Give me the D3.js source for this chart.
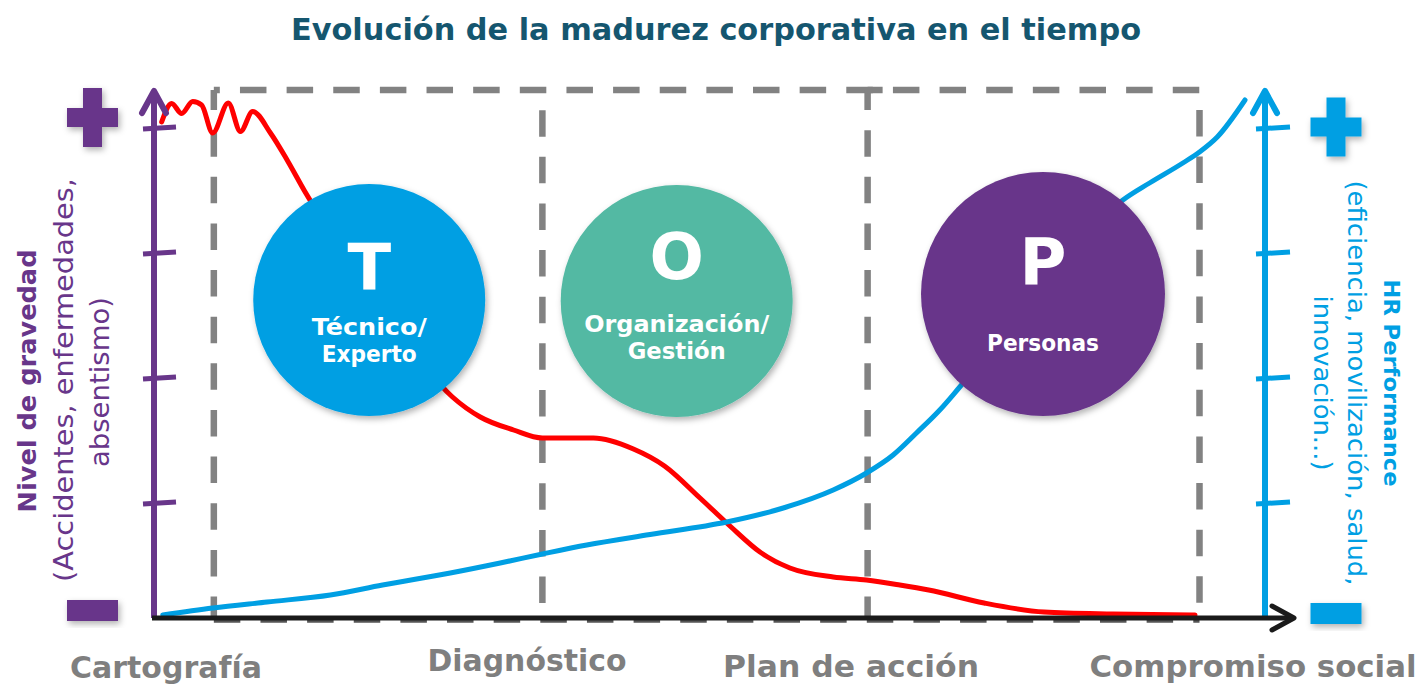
<!DOCTYPE html>
<html>
<head>
<meta charset="utf-8">
<script src="https://cdn.jsdelivr.net/npm/d3@7"></script>
<style>
  body { margin: 0; background: #fff; }
  svg { display: block; }
</style>
</head>
<body>
<script>
// chart values
var title = "Evolución de la madurez corporativa en el tiempo";
var stages = ["Cartografía", "Diagnóstico", "Plan de acción", "Compromiso social"];
var stageBounds = [5.3, 34.9, 64.2, 94.1];
var levelTicks = [25, 50, 75, 100];

var pillarLetters = ["T", "O", "P"];
var pillarNames = [["Técnico/", "Experto"], ["Organización/", "Gestión"], ["Personas"]];
var pillarColors = ["#009fe3", "#52b9a3", "#68368a"];

// red: Nivel de gravedad
var gravedadT = [0.6, 1.5, 2.4, 3.4, 4.2, 5.2, 6.6, 7.7, 8.8, 10.4, 11.9, 13.5, 20.3, 26.8, 29.3, 32.3, 34.9, 39.5, 43.1, 45.9, 49.1, 51.8, 54.5, 57.2, 61.1, 64.1, 67.1, 69.7, 74.7, 80.1, 86.3, 93.7];
var gravedadV = [101.2, 104.9, 102.9, 105.3, 104.6, 99.0, 105.0, 99.3, 103.3, 99.0, 93.6, 87.3, 65.6, 46.2, 42.2, 39.6, 38.0, 38.0, 35.8, 32.4, 26.0, 20.4, 15.2, 12.0, 10.2, 9.6, 8.6, 7.6, 5.0, 3.2, 2.8, 2.6];

// blue: HR Performance
var performanceT = [0.7, 5.2, 10.1, 15.8, 20.5, 26.6, 31.1, 34.9, 38.9, 44.6, 51.5, 56.6, 61.1, 64.1, 66.5, 68.6, 70.7, 72.5, 79.7, 87.2, 89.6, 92.6, 94.1, 95.7, 98.2];
var performanceV = [2.6, 4.0, 5.2, 6.6, 8.6, 11.0, 13.0, 14.8, 16.6, 18.7, 21.2, 24.0, 27.6, 31.0, 34.6, 39.0, 43.6, 48.2, 67.6, 85.6, 89.0, 93.0, 95.2, 98.2, 105.6];

// layout
var W = 1419, H = 685;
var FONT = "'DejaVu Sans', sans-serif";
var purple = "#68368a", blue = "#009fe3", gray = "#7f7f7f";
var pillarAt = [19.3, 47.0, 80.0];
var pillarLevel = [65.6, 65.4, 66.8];
var pillarR = [116, 116, 122];
var pillarNameW = [[115, 95], [185, 98], [112]];
var stageLabelX = [166, 527, 851, 1253];
var stageLabelY = [678, 671, 677, 677];
var stageLabelW = [192, 199, 256, 327];

var svg = d3.select("body").append("svg").attr("width", W).attr("height", H);

var defs = svg.append("defs");
defs.append("filter").attr("id", "shadow")
    .attr("x", "-20%").attr("y", "-20%").attr("width", "150%").attr("height", "150%")
  .append("feDropShadow")
    .attr("dx", 2).attr("dy", 3).attr("stdDeviation", 3)
    .attr("flood-color", "#000").attr("flood-opacity", 0.3);

var x = d3.scaleLinear().domain([0, 100]).range([155, 1265]);
var y = d3.scaleLinear().domain([0, 100]).range([628, 128]);
var base = y(2);

// title
svg.append("text")
    .attr("x", 716).attr("y", 40)
    .attr("text-anchor", "middle")
    .attr("font-family", FONT).attr("font-weight", "bold").attr("font-size", 31)
    .attr("textLength", 850).attr("lengthAdjust", "spacingAndGlyphs")
    .attr("fill", "#15566f")
    .text(title);

// dashed stage boxes
var dash = "26.5 20.14";
var boxes = svg.append("g").attr("fill", "none").attr("stroke", "#828282")
    .attr("stroke-width", 6.5).attr("stroke-dasharray", dash);

boxes.append("path")
    .attr("d", "M" + x(stageBounds[0]) + "," + 90 + "H" + x(stageBounds[3]) + "V" + base)
    .attr("stroke-dashoffset", 20.5);
boxes.append("path")
    .attr("d", "M" + x(stageBounds[0]) + "," + (base + 1.5) + "H" + x(stageBounds[3]))
    .attr("stroke", "#555")
    .attr("stroke-dashoffset", 0);

stageBounds.slice(0, 3).forEach(function(b, i) {
    boxes.append("path")
        .attr("d", "M" + x(b) + "," + 90 + "V" + base)
        .attr("stroke-dashoffset", i == 1 ? 26.5 : 6.5);
});
boxes.append("path")
    .attr("d", "M" + x(stageBounds[2]) + ",90H" + (x(stageBounds[2]) + 15))
    .attr("stroke-dasharray", null);

// curves
var line = d3.line()
    .x(function(d) { return x(d[0]); })
    .y(function(d) { return y(d[1]); })
    .curve(d3.curveMonotoneX);

svg.append("path")
    .datum(d3.zip(gravedadT, gravedadV))
    .attr("d", line)
    .attr("fill", "none").attr("stroke", "#ff0000").attr("stroke-width", 5)
    .attr("stroke-linecap", "round").attr("stroke-linejoin", "round");

svg.append("path")
    .datum(d3.zip(performanceT, performanceV))
    .attr("d", line)
    .attr("fill", "none").attr("stroke", blue).attr("stroke-width", 5)
    .attr("stroke-linecap", "round").attr("stroke-linejoin", "round");

// pillar circles
var pillars = svg.selectAll(".pillar").data(pillarLetters)
    .enter().append("g")
    .attr("class", "pillar")
    .attr("transform", function(d, i) { return "translate(" + x(pillarAt[i]) + "," + y(pillarLevel[i]) + ")"; });

pillars.append("circle")
    .attr("r", function(d, i) { return pillarR[i]; })
    .attr("fill", function(d, i) { return pillarColors[i]; })
    .attr("filter", "url(#shadow)");

pillars.append("text")
    .attr("text-anchor", "middle")
    .attr("y", function(d, i) { return i == 1 ? -22 : -10; })
    .attr("font-family", FONT).attr("font-weight", "bold").attr("font-size", 64)
    .attr("fill", "#fff")
    .text(function(d) { return d; });

pillars.each(function(d, i) {
    var g = d3.select(this);
    var names = pillarNames[i];
    var startY = names.length == 1 ? 57 : (i == 1 ? 31 : 35);
    names.forEach(function(n, k) {
        g.append("text")
            .attr("text-anchor", "middle")
            .attr("y", startY + k * 27)
            .attr("font-family", FONT).attr("font-weight", "bold").attr("font-size", 23)
            .attr("textLength", pillarNameW[i][k]).attr("lengthAdjust", "spacingAndGlyphs")
            .attr("fill", "#fff")
            .text(n);
    });
});

// axes
function drawAxis(ax, color, tickFrom, tickTo) {
    var g = svg.append("g").attr("stroke", color).attr("fill", "none");
    g.append("line")
        .attr("x1", ax).attr("x2", ax).attr("y1", base).attr("y2", 92)
        .attr("stroke-width", 6);
    g.append("path")
        .attr("d", "M" + (ax - 12) + ",113L" + ax + ",91L" + (ax + 12) + ",113")
        .attr("stroke-width", 6).attr("stroke-linecap", "round").attr("stroke-linejoin", "round");
    g.selectAll(".tick").data(levelTicks)
        .enter().append("line")
        .attr("x1", ax + tickFrom).attr("x2", ax + tickTo)
        .attr("y1", function(d) { return y(d) + 1; })
        .attr("y2", function(d) { return y(d) - 1; })
        .attr("stroke-width", 5);
}
drawAxis(x(0) - 1, purple, -11, 22);
drawAxis(x(100), blue, -9, 25);

var xa = svg.append("g").attr("stroke", "#1a1a1a").attr("fill", "none").attr("stroke-width", 5);
xa.append("line").attr("x1", x(0) - 3).attr("x2", 1292).attr("y1", base).attr("y2", base);
xa.append("path")
    .attr("d", "M1272," + (base - 12) + "L1294," + base + "L1272," + (base + 12))
    .attr("stroke-linecap", "round").attr("stroke-linejoin", "round");

// plus / minus marks
function plus(cx, cy, color) {
    var g = svg.append("g").attr("fill", color).attr("filter", "url(#shadow)");
    g.append("path")
        .attr("d", "M" + (cx - 9.5) + "," + (cy - 29.5) + "h19v20h16v19h-16v20h-19v-20h-16v-19h16z");
}
function minus(cx, cy, color) {
    svg.append("rect")
        .attr("x", cx - 25.5).attr("y", cy - 10.5).attr("width", 51).attr("height", 21)
        .attr("fill", color).attr("filter", "url(#shadow)");
}
plus(92.5, 117.5, purple);
minus(92.5, 610.5, purple);
plus(1336, 127, blue);
minus(1336, 613.5, blue);

// side labels
function sideText(cx, cy, angle, str, len, weight, size, color) {
    svg.append("text")
        .attr("transform", "translate(" + cx + "," + cy + ") rotate(" + angle + ")")
        .attr("text-anchor", "middle").attr("dominant-baseline", "central")
        .attr("font-family", FONT).attr("font-weight", weight).attr("font-size", size)
        .attr("textLength", len).attr("lengthAdjust", "spacingAndGlyphs")
        .attr("fill", color)
        .text(str);
}
sideText(27, 381, -90, "Nivel de gravedad", 263, "bold", 25, purple);
sideText(64, 380, -90, "(Accidentes, enfermedades,", 404, "normal", 26, purple);
sideText(100, 382, -90, "absentismo)", 170, "normal", 26, purple);

sideText(1391, 383, 90, "HR Performance", 207, "bold", 22, blue);
sideText(1356, 383, 90, "(eficiencia, movilización, salud,", 405, "normal", 25, blue);
sideText(1322, 383, 90, "innovación...)", 175, "normal", 25, blue);

// stage labels
svg.selectAll(".stage").data(stages)
    .enter().append("text")
    .attr("class", "stage")
    .attr("x", function(d, i) { return stageLabelX[i]; })
    .attr("y", function(d, i) { return stageLabelY[i]; })
    .attr("text-anchor", "middle")
    .attr("font-family", FONT).attr("font-weight", "bold").attr("font-size", 31)
    .attr("textLength", function(d, i) { return stageLabelW[i]; })
    .attr("lengthAdjust", "spacingAndGlyphs")
    .attr("fill", gray)
    .text(function(d) { return d; });
</script>
</body>
</html>
